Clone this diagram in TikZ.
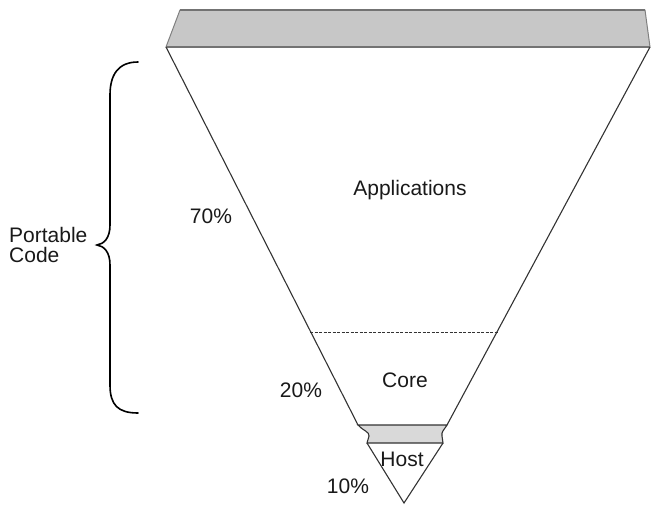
\documentclass[tikz,border=0pt]{standalone}
\usepackage{fontspec}
\setmainfont{Liberation Sans}
\begin{document}
\begin{tikzpicture}[x=1pt,y=-1pt,
  lbl/.style={inner sep=0pt, font=\fontsize{21}{20}\selectfont, text=black!90},
  edge/.style={draw=black!80, line width=1.1pt},
  bar/.style={fill=black!22, draw=black!50, line width=1pt}]
\useasboundingbox (0,0) rectangle (652,506);
% top gray bar
\path[bar] (180,10) -- (645,10) -- (650,47) -- (166,47) -- cycle;
\draw[black!55, line width=2pt] (180,10) -- (645,10);
\draw[black!55, line width=2pt] (166,47) -- (650,47);
% main funnel
\coordinate (tl) at (166,47);
\coordinate (tr) at (650,47);
\coordinate (bl) at (358,425);
\coordinate (br) at (447,425);
\draw[edge] (tl) -- (bl);
\draw[edge] (tr) -- (br);
% dashed divider
\coordinate (dl) at (310,332);
\coordinate (dr) at (499,332);
\draw[black!80, line width=1pt, dash pattern=on 3pt off 1.5pt] (dl) -- (dr);
% host band
\coordinate (hl) at (367,443);
\coordinate (hr) at (443,443);
\path[fill=black!15, draw=black!80, line width=1.1pt]
  (bl) -- (br) .. controls (444,430) and (441,432) .. (442,436) -- (hr) -- (hl) -- (369,436) .. controls (370,432) and (362,430) .. (bl) -- cycle;
% host triangle
\coordinate (apex) at (404,503);
\draw[edge] (hl) -- (apex) -- (hr);
% brace
\draw[black, line width=1.6pt, line cap=round]
  (138,62) .. controls (118,62) and (110,75) .. (110,95) -- (110,225)
  .. controls (110,238) and (104,244) .. (97,245)
  .. controls (104,246) and (110,252) .. (110,265) -- (110,385)
  .. controls (110,405) and (118,413) .. (138,413);
% labels
\node[lbl] (apps) at (410,190) {Applications};
\node[lbl] (p70) at (211,216) {70\%};
\node[lbl] (core) at (405,380) {Core};
\node[lbl] (p20) at (301,390) {20\%};
\node[lbl] (host) at (402,459) {Host};
\node[lbl] (p10) at (348,486) {10\%};
\node[lbl, anchor=west, align=left] (port) at (9,245) {Portable\\Code};
\end{tikzpicture}
\end{document}
